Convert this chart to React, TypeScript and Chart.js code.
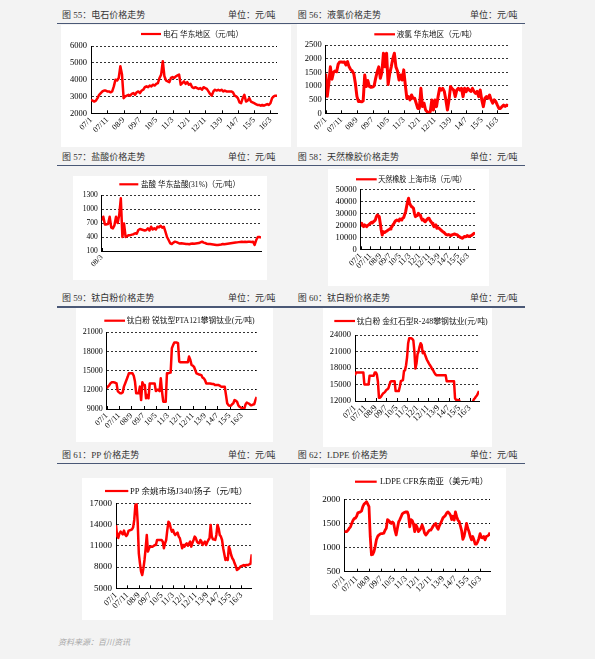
import React, { useEffect, useRef } from 'react';
import { Chart, registerables } from 'chart.js';

Chart.register(...registerables);

// Labelled x ticks: month index counted from 2007/1, one label every 10 months
const TICK_INDEX = [0, 10, 20, 30, 40, 50, 60, 70, 80, 90, 100, 110];
const TICK_LABELS = ['07/1', '07/11', '08/9', '09/7', '10/5', '11/3', '12/1', '12/11', '13/9', '14/7', '15/5', '16/3'];
// Hydrochloric acid series starts 2008/3
const HCL_TICK_INDEX = [0];
const HCL_TICK_LABELS = ['08/3'];

// 电石 华东地区 (元/吨), monthly from 2007/1
const CARBIDE = [
  2800, 2750, 2700, 2750, 2900, 3100, 3200, 3300, 3350, 3350,
  3300, 3300, 3250, 3300, 3600, 4000, 3950, 4100, 4800, 4300,
  2900, 3000, 3050, 3100, 3050, 3150, 3200, 3100, 3250, 3300,
  3200, 3350, 3400, 3550, 3600, 3550, 3650, 3600, 3700, 3650,
  3750, 3800, 4100, 4300, 5100, 4200, 3950, 3900, 3850, 4100,
  4150, 4100, 4200, 4250, 4300, 3700, 3800, 3900, 3750, 3850,
  3700, 3750, 3550, 3500, 3550, 3500, 3450, 3500, 3400, 3550,
  3500, 3450, 3300, 3150, 3050, 3300, 3400, 3350, 3400, 3350,
  3400, 3300, 3350, 3300, 3300, 3300, 3300, 3250, 3050, 3000,
  2900, 2650, 2600, 2900, 3100, 2700, 2750, 2900, 2700, 2650,
  2600, 2550, 2500, 2500, 2450, 2500, 2450, 2500, 2550, 2500,
  2600, 2900, 3000, 3050, 3050,
];

// 液氯 华东地区 (元/吨)
const CHLORINE = [
  1450, 620, 1100, 1700, 1250, 1500, 1550, 1520, 1800, 1880,
  1880, 1870, 1880, 1770, 1890, 1700, 1600, 1550, 1450, 1100,
  620, 430, 430, 420, 450, 1400, 980, 1200, 980, 950,
  960, 1000, 1280, 1520, 1700, 1280, 1500, 2200, 1700, 2200,
  1050, 1450, 1700, 2000, 2200, 1700, 1550, 1220, 1400, 1220,
  1590, 1040, 550, 610, 490, 670, 550, 550, 370, 180,
  180, 915, 245, 370, 120, 60, 25, 60, 490, 120,
  490, 245, 610, 915, 850, 915, 800, 490, 120, 490,
  980, 900, 850, 610, 850, 915, 850, 915, 610, 915,
  790, 915, 850, 800, 915, 800, 730, 800, 610, 850,
  490, 245, 550, 610, 550, 670, 490, 370, 490, 430,
  300, 180, 180, 245, 300, 250, 300, 280,
];

// 盐酸 华东盐酸(31%) (元/吨), monthly from 2008/3
const HCL = [
  760, 835, 670, 670, 680, 835, 600, 585, 650, 835,
  700, 870, 1230, 400, 690, 400, 420, 440, 440, 450,
  460, 480, 470, 550, 570, 560, 550, 540, 550, 585,
  540, 620, 560, 585, 560, 620, 610, 640, 600, 620,
  515, 400, 335, 265, 250, 280, 300, 290, 275, 260,
  265, 260, 255, 250, 250, 245, 255, 260, 255, 260,
  265, 270, 285, 300, 280, 270, 255, 250, 250, 245,
  240, 235, 230, 230, 235, 240, 250, 245, 250, 255,
  260, 265, 270, 275, 280, 285, 290, 295, 300, 295,
  300, 295, 300, 300, 295, 300, 230, 335, 400, 400,
  390,
];

// 天然橡胶 上海市场 (元/吨)
const RUBBER = [
  20300, 21700, 19500, 18900, 20300, 19500, 18900, 19800, 20300, 21000,
  21700, 22500, 22000, 23000, 23600, 24500, 27200, 28600, 28000, 27200,
  21700, 16100, 11900, 14700, 14000, 14200, 15000, 15300, 16100, 16500,
  17000, 18000, 18900, 20300, 21500, 23000, 24000, 24400, 24000, 23600,
  25300, 24800, 24400, 26000, 26400, 29000, 31400, 35600, 39700, 42500,
  38300, 36900, 35600, 35000, 34200, 30000, 27200, 28000, 28100, 30000,
  29000, 28600, 26000, 24400, 25000, 23600, 23000, 24000, 25000, 25800,
  25800, 24000, 23000, 21700, 20500, 18900, 19500, 20300, 17500, 18000,
  17600, 17000, 16100, 15500, 14700, 14200, 13500, 12500, 12200, 11900,
  12300, 12000, 11400, 11800, 12200, 12500, 12800, 12500, 12200, 11900,
  11000, 10600, 9900, 9700, 9200, 9800, 10600, 10400, 10600, 11400,
  11000, 10600, 11200, 11400, 11900, 12500, 13300, 12500,
];

// 钛白粉 锐钛型PTA121 攀钢钛业 (元/吨)
const TIO2_ANATASE = [
  12230, 12500, 12700, 13000, 13170, 13170, 13170, 13100, 13000, 11800,
  11600, 11450, 11450, 11600, 12500, 13000, 13500, 14000, 14580, 14580,
  14580, 14580, 14200, 13300, 11450, 11450, 11450, 12500, 10400, 13170,
  12750, 12750, 10670, 11200, 10670, 13000, 13000, 13000, 13000, 13000,
  11800, 12000, 12000, 11800, 13800, 11700, 10150, 10150, 10150, 14580,
  14580, 14650, 14700, 18500, 19000, 19400, 19400, 19400, 19300, 16400,
  16300, 16300, 16300, 16300, 16300, 16300, 16300, 17200, 16700, 15900,
  15800, 15600, 15100, 14580, 14500, 14400, 14350, 14300, 13900, 13800,
  13500, 13000, 13000, 13000, 13000, 12950, 12900, 12900, 12750, 12750,
  12750, 12750, 12650, 12500, 12500, 12500, 12500, 11200, 9900, 9600,
  9500, 9500, 9750, 9900, 10400, 10300, 10150, 9600, 9350, 9250,
  9100, 9100, 9100, 9750, 10000, 9900, 9800, 9600, 9600, 9700,
  9750, 10400, 10900,
];

// 钛白粉 金红石型R-248 攀钢钛业 (元/吨)
const TIO2_RUTILE = [
  16700, 17200, 17200, 17200, 17200, 17200, 17200, 17200, 17200, 15000,
  15000, 15000, 15000, 15000, 16600, 16600, 16600, 16600, 16600, 17200,
  17200, 16800, 15500, 12600, 12600, 12800, 13100, 13400, 13500, 13700,
  14000, 14100, 14300, 14900, 15500, 15600, 15600, 15600, 15600, 13800,
  13800, 13800, 13800, 14600, 15600, 15700, 15800, 17450, 17600, 18500,
  20000, 22500, 23400, 23400, 23400, 23300, 23000, 21000, 17900, 18800,
  20500, 21000, 21900, 22500, 22200, 20700, 21000, 20500, 20000, 19500,
  19150, 18800, 18500, 18200, 17800, 17600, 17200, 16900, 16700, 16700,
  16700, 16700, 16700, 16700, 16700, 16700, 16700, 16700, 15600, 15600,
  15600, 15600, 15600, 15600, 15600, 15600, 12500, 12200, 12200, 12200,
  12100, 11500, 11500, 11500, 11500, 11500, 11500, 11500, 11500, 11500,
  11500, 11500, 11500, 11800, 12300, 12500, 12800, 13000, 13400, 13800,
];

// PP 余姚市场 J340/扬子 (元/吨)
const PP = [
  13900, 12400, 12100, 12760, 13000, 12800, 12620, 13140, 12600, 12390,
  12600, 13100, 13200, 13240, 13330, 13600, 14650, 16760, 17000, 14400,
  9940, 8530, 7350, 6880, 7800, 9000, 10650, 12530, 10180, 10650,
  10880, 10900, 10880, 10980, 11100, 11120, 11820, 11820, 11820, 11820,
  11820, 11590, 10650, 11350, 11820, 13240, 14410, 14180, 13470, 13000,
  13240, 12760, 12530, 12700, 12860, 12300, 12060, 11350, 10650, 11120,
  10880, 11200, 11350, 11000, 11300, 11590, 10880, 11400, 11820, 12300,
  12100, 11590, 11400, 11350, 11820, 11600, 11120, 11400, 11590, 11120,
  11500, 11820, 12060, 13940, 12300, 11920, 11900, 11820, 12530, 13940,
  13470, 12530, 12300, 11820, 10650, 9800, 9000, 9240, 9000, 10880,
  10410, 9700, 9240, 9000, 8530, 8150, 7590, 7700, 7820, 8060,
  8150, 8200, 8290, 8150, 8290, 8290, 8290, 8400, 8450, 9800,
];

// LDPE CFR 东南亚 (美元/吨)
const LDPE = [
  1330, 1330, 1330, 1360, 1400, 1430, 1500, 1560, 1600, 1610,
  1650, 1720, 1730, 1740, 1760, 1850, 1900, 1920, 1950, 1900,
  1850, 1230, 850, 860, 915, 1020, 1160, 1230, 1260, 1280,
  1290, 1290, 1300, 1360, 1400, 1580, 1560, 1530, 1500, 1530,
  1500, 1360, 1260, 1400, 1530, 1580, 1640, 1700, 1720, 1730,
  1740, 1740, 1670, 1430, 1580, 1560, 1490, 1330, 1470, 1420,
  1330, 1360, 1400, 1470, 1400, 1300, 1260, 1290, 1330, 1360,
  1360, 1400, 1450, 1470, 1500, 1420, 1380, 1450, 1500, 1560,
  1620, 1640, 1670, 1720, 1740, 1710, 1670, 1580, 1650, 1570,
  1740, 1640, 1570, 1540, 1450, 1350, 1170, 1230, 1360, 1500,
  1400, 1330, 1230, 1160, 1230, 1160, 1070, 1070, 1120, 1190,
  1290, 1210, 1200, 1230, 1160, 1230, 1240, 1260, 1310,
];

const RED = '#ff0000';
const SERIF = "'Liberation Serif', 'Times New Roman', serif";
const MIXED = "'Liberation Serif', 'Noto Sans CJK SC', sans-serif";

// Draws the single-series key: a short red stroke followed by the series name
const lineLegend = {
  id: 'lineLegend',
  afterDraw(chart: any, _args: any, opts: any) {
    const ds = chart.data.datasets[0];
    const ctx = chart.ctx;
    ctx.save();
    ctx.strokeStyle = ds.borderColor;
    ctx.lineWidth = opts.lineWidth;
    ctx.beginPath();
    ctx.moveTo(opts.x0, opts.y);
    ctx.lineTo(opts.x1, opts.y);
    ctx.stroke();
    ctx.fillStyle = '#111';
    ctx.font = `${opts.size}px ${MIXED}`;
    ctx.textBaseline = 'middle';
    ctx.textAlign = 'left';
    ctx.fillText(ds.label, opts.tx, opts.y + 0.5, opts.tw);
    ctx.restore();
  },
};

// Short tick marks pointing up into the plot from the time axis
const innerTicks = {
  id: 'innerTicks',
  beforeDatasetsDraw(chart: any) {
    const xs = chart.scales.x;
    const { bottom } = chart.chartArea;
    const ctx = chart.ctx;
    ctx.save();
    ctx.strokeStyle = '#000';
    ctx.lineWidth = 1;
    ctx.beginPath();
    xs.ticks.forEach((t: any) => {
      const px = Math.round(xs.getPixelForValue(t.value)) + 0.5;
      ctx.moveTo(px, bottom);
      ctx.lineTo(px, bottom - 3);
    });
    ctx.stroke();
    ctx.restore();
  },
};

type PanelDef = {
  key: string;
  label: string;
  values: number[];
  tickIndex: number[];
  tickLabels: string[];
  yMin: number;
  yMax: number;
  yStep: number;
  box: [number, number, number, number];
  inset: { yWidth: number; top: number; right: number; xHeight: number };
  legend: { x0: number; x1: number; tx: number; y: number; tw: number; size: number; lineWidth: number };
  lineWidth: number;
  yFont: number;
  xFont: number;
};

const PANELS: PanelDef[] = [
  {
    key: 'carbide', label: '电石 华东地区（元/吨）', values: CARBIDE,
    tickIndex: TICK_INDEX, tickLabels: TICK_LABELS, yMin: 2000, yMax: 6000, yStep: 1000,
    box: [61, 25, 230, 122], inset: { yWidth: 30, top: 21, right: 14, xHeight: 33.7 },
    legend: { x0: 80, x1: 100, tx: 102, y: 9, tw: 80, size: 8, lineWidth: 2.2 },
    lineWidth: 2.5, yFont: 8.5, xFont: 8,
  },
  {
    key: 'chlorine', label: '液氯 华东地区（元/吨）', values: CHLORINE,
    tickIndex: TICK_INDEX, tickLabels: TICK_LABELS, yMin: 0, yMax: 2500, yStep: 500,
    box: [297, 24, 225, 123], inset: { yWidth: 28.7, top: 21, right: 13.7, xHeight: 33.7 },
    legend: { x0: 77.3, x1: 98, tx: 99.7, y: 10.3, tw: 80, size: 8, lineWidth: 2.2 },
    lineWidth: 3, yFont: 8.5, xFont: 8,
  },
  {
    key: 'hcl', label: '盐酸 华东盐酸(31%)（元/吨）', values: HCL,
    tickIndex: HCL_TICK_INDEX, tickLabels: HCL_TICK_LABELS, yMin: 100, yMax: 1300, yStep: 300,
    box: [73, 176, 194, 104], inset: { yWidth: 28.7, top: 19, right: 6, xHeight: 29 },
    legend: { x0: 46.3, x1: 65.3, tx: 68, y: 8.3, tw: 99, size: 8, lineWidth: 2.2 },
    lineWidth: 2.5, yFont: 7.5, xFont: 7.5,
  },
  {
    key: 'rubber', label: '天然橡胶 上海市场（元/吨）', values: RUBBER,
    tickIndex: TICK_INDEX, tickLabels: TICK_LABELS, yMin: 0, yMax: 50000, yStep: 10000,
    box: [328, 169, 161, 117], inset: { yWidth: 32.7, top: 20.3, right: 14, xHeight: 36.7 },
    legend: { x0: 28, x1: 48.7, tx: 50.3, y: 10.3, tw: 88, size: 8, lineWidth: 2.2 },
    lineWidth: 3, yFont: 8.5, xFont: 8,
  },
  {
    key: 'tio2a', label: '钛白粉 锐钛型PTA121攀钢钛业(元/吨)', values: TIO2_ANATASE,
    tickIndex: TICK_INDEX, tickLabels: TICK_LABELS, yMin: 9000, yMax: 21000, yStep: 3000,
    box: [76, 308, 197, 134], inset: { yWidth: 30.7, top: 24.3, right: 16.3, xHeight: 33 },
    legend: { x0: 28.3, x1: 49, tx: 50.7, y: 12.7, tw: 128, size: 8, lineWidth: 2.2 },
    lineWidth: 2.5, yFont: 8, xFont: 8,
  },
  {
    key: 'tio2r', label: '钛白粉 金红石型R-248攀钢钛业(元/吨)', values: TIO2_RUTILE,
    tickIndex: TICK_INDEX, tickLabels: TICK_LABELS, yMin: 12000, yMax: 24000, yStep: 3000,
    box: [323, 308, 169, 139], inset: { yWidth: 32, top: 27, right: 13, xHeight: 46 },
    legend: { x0: 11.3, x1: 32, tx: 33.7, y: 13, tw: 131, size: 8, lineWidth: 2.2 },
    lineWidth: 2.5, yFont: 8.5, xFont: 8.5,
  },
  {
    key: 'pp', label: 'PP 余姚市场J340/扬子（元/吨）', values: PP,
    tickIndex: TICK_INDEX, tickLabels: TICK_LABELS, yMin: 5000, yMax: 17000, yStep: 3000,
    box: [82, 478, 191, 142], inset: { yWidth: 34, top: 25.3, right: 21.3, xHeight: 31.7 },
    legend: { x0: 23, x1: 46.3, tx: 48, y: 13, tw: 118, size: 8.5, lineWidth: 2.2 },
    lineWidth: 2.5, yFont: 9, xFont: 8.5,
  },
  {
    key: 'ldpe', label: 'LDPE CFR东南亚（美元/吨）', values: LDPE,
    tickIndex: TICK_INDEX, tickLabels: TICK_LABELS, yMin: 500, yMax: 2000, yStep: 500,
    box: [310, 468, 196, 147], inset: { yWidth: 34.3, top: 31.3, right: 16, xHeight: 43.3 },
    legend: { x0: 45, x1: 66.7, tx: 70, y: 13.7, tw: 108, size: 8.5, lineWidth: 2.2 },
    lineWidth: 2.8, yFont: 9, xFont: 8.5,
  },
];

const HEADER_ROWS = [
  { y: 15, line: 23.3, left: '图 55：电石价格走势', right: '图 56：液氯价格走势' },
  { y: 156.7, line: 165.7, left: '图 57：盐酸价格走势', right: '图 58：天然橡胶价格走势' },
  { y: 298.3, line: 307, left: '图 59：钛白粉价格走势', right: '图 60：钛白粉价格走势' },
  { y: 455, line: 463.3, left: '图 61：PP 价格走势', right: '图 62：LDPE 价格走势' },
];
const UNIT_TEXT = '单位：元/吨';

function PricePanel({ def }: { def: PanelDef }) {
  const ref = useRef<HTMLCanvasElement>(null);
  const [bl, bt, bw, bh] = def.box;

  useEffect(() => {
    if (!ref.current) return;
    const chart = new Chart(ref.current, {
      type: 'line',
      data: {
        datasets: [
          {
            label: def.label,
            data: def.values.map((v, i) => ({ x: i, y: v })),
            borderColor: RED,
            backgroundColor: RED,
            borderWidth: def.lineWidth,
            pointRadius: 0,
            tension: 0,
            fill: false,
            borderJoinStyle: 'round',
          },
        ],
      },
      options: {
        responsive: false,
        animation: false,
        devicePixelRatio: 1,
        layout: { padding: { left: 0, top: def.inset.top, right: def.inset.right, bottom: 0 } },
        plugins: {
          legend: { display: false },
          tooltip: { enabled: false },
          lineLegend: def.legend,
        } as any,
        scales: {
          x: {
            type: 'linear',
            min: 0,
            max: def.values.length - 1,
            afterBuildTicks: (s: any) => {
              s.ticks = def.tickIndex.map((v) => ({ value: v }));
            },
            afterFit: (s: any) => {
              s.height = def.inset.xHeight;
            },
            ticks: {
              autoSkip: false,
              minRotation: 45,
              maxRotation: 45,
              padding: 2,
              color: '#000',
              font: { family: SERIF, size: def.xFont },
              callback: (_v: any, i: number) => def.tickLabels[i],
            },
            grid: { display: false, drawTicks: false },
            border: { display: true, color: '#000', width: 1 },
          },
          y: {
            min: def.yMin,
            max: def.yMax,
            afterFit: (s: any) => {
              s.width = def.inset.yWidth;
            },
            ticks: {
              stepSize: def.yStep,
              autoSkip: false,
              padding: 4,
              color: '#000',
              font: { family: SERIF, size: def.yFont },
              callback: (v: any) => String(v),
            },
            grid: { color: '#000', lineWidth: 0.8, drawTicks: false },
            border: { display: true, color: '#000', width: 1, dash: [2, 2] },
          },
        },
      } as any,
      plugins: [lineLegend, innerTicks],
    });
    return () => chart.destroy();
  }, [def]);

  return (
    <canvas
      ref={ref}
      width={bw}
      height={bh}
      style={{ position: 'absolute', left: bl, top: bt, width: bw, height: bh, background: '#ffffff' }}
    />
  );
}

const headText: React.CSSProperties = {
  position: 'absolute',
  height: 12,
  lineHeight: '12px',
  fontSize: 9,
  color: '#333',
  whiteSpace: 'nowrap',
  fontFamily: MIXED,
};

export default function App() {
  return (
    <div
      style={{
        position: 'absolute',
        left: 0,
        top: 0,
        width: 595,
        height: 659,
        background: '#f3f3f3',
        overflow: 'hidden',
        fontFamily: MIXED,
      }}
    >
      {HEADER_ROWS.map((r) => (
        <React.Fragment key={r.left}>
          <div style={{ ...headText, left: 62, top: r.y - 6 }}>{r.left}</div>
          <div style={{ ...headText, left: 228, width: 47, textAlign: 'right', top: r.y - 6 }}>{UNIT_TEXT}</div>
          <div style={{ ...headText, left: 297.7, top: r.y - 6 }}>{r.right}</div>
          <div style={{ ...headText, left: 470, width: 47, textAlign: 'right', top: r.y - 6 }}>{UNIT_TEXT}</div>
          <div
            style={{
              position: 'absolute',
              left: 57,
              width: 468,
              top: r.line - 0.75,
              height: 1.5,
              background: '#4a5876',
            }}
          />
        </React.Fragment>
      ))}
      {PANELS.map((p) => (
        <PricePanel key={p.key} def={p} />
      ))}
      <div
        style={{
          position: 'absolute',
          left: 58,
          top: 637,
          height: 12,
          lineHeight: '12px',
          fontSize: 8,
          color: '#a8a8a8',
          fontStyle: 'italic',
          whiteSpace: 'nowrap',
        }}
      >
        资料来源：百川资讯
      </div>
    </div>
  );
}
